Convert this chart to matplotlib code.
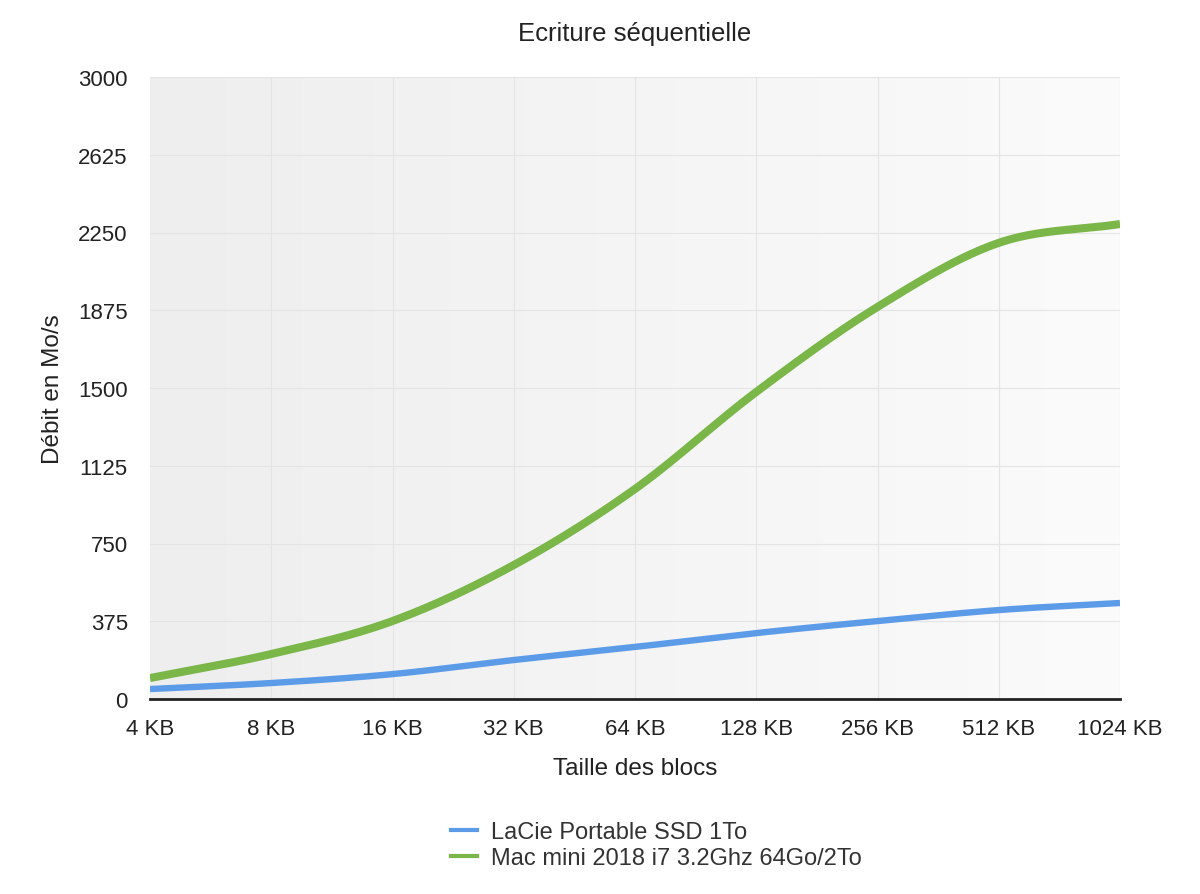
import numpy as np
import matplotlib
matplotlib.use("Agg")
import matplotlib.pyplot as plt
from matplotlib.lines import Line2D
from matplotlib.colors import LinearSegmentedColormap

categories = ["4 KB", "8 KB", "16 KB", "32 KB", "64 KB", "128 KB", "256 KB", "512 KB", "1024 KB"]
lacie = [48, 77, 120, 188, 251, 318, 376, 429, 463]
macmini = [101, 217, 376, 646, 1013, 1481, 1891, 2200, 2291]
yticks = [0, 375, 750, 1125, 1500, 1875, 2250, 2625, 3000]
series_names = ["LaCie Portable SSD 1To", "Mac mini 2018 i7 3.2Ghz 64Go/2To"]

plt.rcParams['font.family'] = ['Liberation Sans', 'DejaVu Sans']


def smooth(x, y, n=40):
    # cubic Hermite (Catmull-Rom tangents) to draw a smooth curve through the points
    x = np.asarray(x, float); y = np.asarray(y, float)
    h = np.diff(x); d = np.diff(y) / h
    m = np.zeros_like(y)
    m[0], m[-1] = d[0], d[-1]
    for i in range(1, len(y) - 1):
        m[i] = (y[i + 1] - y[i - 1]) / (x[i + 1] - x[i - 1])
    xs, ys = [], []
    for i in range(len(x) - 1):
        t = np.linspace(0, 1, n, endpoint=(i == len(x) - 2))
        h00 = 2*t**3 - 3*t**2 + 1; h10 = t**3 - 2*t**2 + t
        h01 = -2*t**3 + 3*t**2; h11 = t**3 - t**2
        xs.append(x[i] + t*h[i])
        ys.append(h00*y[i] + h10*h[i]*m[i] + h01*y[i+1] + h11*h[i]*m[i+1])
    return np.concatenate(xs), np.concatenate(ys)


fig = plt.figure(figsize=(12, 8.95), dpi=100)
ax = fig.add_axes([150/1200, 1 - 700/895, 970/1200, 622/895])

xpos = np.arange(len(categories))
ax.set_xlim(0, len(categories) - 1)
ax.set_ylim(0, 3000)

grad = np.linspace(0, 1, 256).reshape(1, -1)
cmap = LinearSegmentedColormap.from_list("bg", ["#eeeeef", "#fbfbfb"])
ax.imshow(grad, extent=[0, len(categories) - 1, 0, 3000], aspect='auto', cmap=cmap, zorder=0)

for yt in yticks[1:]:
    ax.axhline(yt, color="#e4e4e4", lw=0.8, zorder=1)
for xp in xpos[1:]:
    ax.axvline(xp, color="#e4e4e4", lw=0.8, zorder=1)

c_blue = "#5b9be8"
c_green = "#7ab648"
sx, sy = smooth(xpos, lacie)
ax.plot(sx, sy, color=c_blue, lw=4.6, solid_capstyle='butt', zorder=3)
sx, sy = smooth(xpos, macmini)
ax.plot(sx, sy, color=c_green, lw=5.8, solid_capstyle='butt', zorder=3)

ax.set_xticks(xpos)
ax.set_xticklabels(categories)
ax.set_yticks(yticks)
ax.set_yticklabels([str(v) for v in yticks])
ax.tick_params(length=0, labelsize=16, colors="#222222")
ax.tick_params(axis='x', pad=14)
ax.tick_params(axis='y', pad=16)

for s in ["top", "right", "left"]:
    ax.spines[s].set_visible(False)
ax.spines["bottom"].set_color("#222222")
ax.spines["bottom"].set_linewidth(2)

ax.set_xlabel("Taille des blocs", fontsize=17.5, color="#222222", labelpad=13)
ax.set_ylabel("Débit en Mo/s", fontsize=17.5, color="#222222", labelpad=10)
fig.text(635/1200, 1 - 34/895, "Ecriture séquentielle", fontsize=18.5, color="#222222", ha="center", va="center")

handles = [Line2D([], [], color=c_blue, lw=3), Line2D([], [], color=c_green, lw=3)]
leg = fig.legend(handles, series_names, loc="center left", bbox_to_anchor=(430/1200, 1 - 846/895),
                 frameon=False, fontsize=17, handlelength=1.1, handletextpad=0.6, labelspacing=0.15)
for t in leg.get_texts():
    t.set_color("#333333")

fig.savefig("out.png", dpi=100)
